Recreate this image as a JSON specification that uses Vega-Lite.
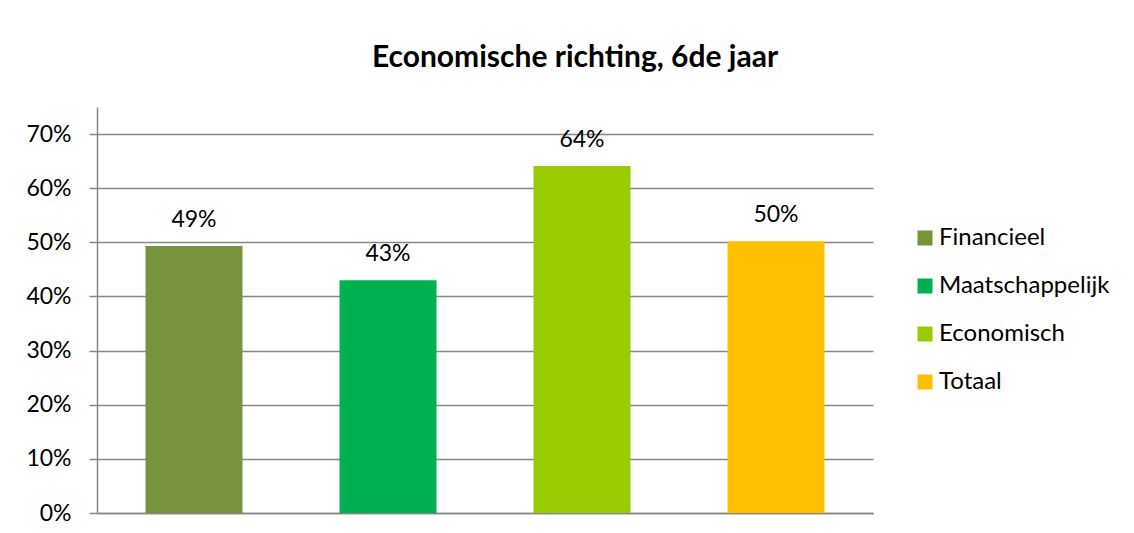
{
  "$schema": "https://vega.github.io/schema/vega-lite/v6.json",
  "width": 776,
  "height": 406,
  "autosize": {"type": "none"},
  "padding": {"left": 97, "top": 107, "right": 261, "bottom": 20},
  "background": "white",
  "config": {
    "font": "Lato",
    "view": {"stroke": null}
  },
  "title": {
    "text": "Economische richting, 6de jaar",
    "fontSize": 30,
    "fontWeight": "bold",
    "font": "Lato",
    "color": "black",
    "anchor": "middle",
    "dx": 90,
    "baseline": "alphabetic",
    "offset": 10
  },
  "data": {
    "values": [
      {"richting": "Financieel", "aandeel": 0.493},
      {"richting": "Maatschappelijk", "aandeel": 0.43},
      {"richting": "Economisch", "aandeel": 0.641},
      {"richting": "Totaal", "aandeel": 0.502}
    ]
  },
  "encoding": {
    "x": {
      "field": "richting",
      "type": "nominal",
      "sort": null,
      "scale": {"paddingInner": 0.5, "paddingOuter": 0.25},
      "axis": {
        "title": null,
        "labels": false,
        "ticks": false,
        "grid": false,
        "domainColor": "#868686",
        "domainWidth": 1.5
      }
    },
    "y": {
      "field": "aandeel",
      "type": "quantitative",
      "scale": {"domain": [0, 0.75], "nice": false, "zero": true},
      "axis": {
        "title": null,
        "values": [0, 0.1, 0.2, 0.3, 0.4, 0.5, 0.6, 0.7],
        "format": ".0%",
        "labelFontSize": 23,
        "labelColor": "black",
        "labelPadding": 18,
        "tickSize": 8,
        "tickColor": "#868686",
        "tickWidth": 1.5,
        "domainColor": "#868686",
        "domainWidth": 1.5,
        "grid": true,
        "gridColor": "#868686",
        "gridWidth": 1.5
      }
    }
  },
  "layer": [
    {
      "mark": {"type": "bar"},
      "encoding": {
        "color": {
          "field": "richting",
          "type": "nominal",
          "sort": null,
          "scale": {
            "domain": ["Financieel", "Maatschappelijk", "Economisch", "Totaal"],
            "range": ["#77933C", "#00B050", "#99CC00", "#FFC000"]
          },
          "legend": {
            "title": null,
            "orient": "none",
            "legendX": 816,
            "legendY": 119,
            "padding": 0,
            "symbolType": "square",
            "symbolSize": 225,
            "symbolStrokeWidth": 0,
            "symbolOpacity": 1,
            "labelFontSize": 24,
            "labelColor": "black",
            "labelOffset": 2,
            "labelLimit": 400,
            "rowPadding": 24
          }
        }
      }
    },
    {
      "mark": {"type": "text", "baseline": "alphabetic", "dy": -19, "fontSize": 23, "color": "black"},
      "encoding": {
        "text": {"field": "aandeel", "type": "quantitative", "format": ".0%"}
      }
    }
  ]
}
